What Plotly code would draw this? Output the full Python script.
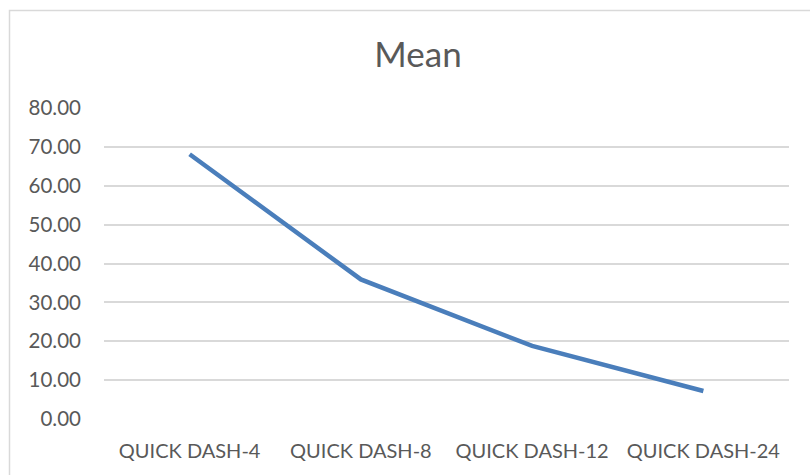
import plotly.graph_objects as go

categories = ["QUICK DASH-4", "QUICK DASH-8", "QUICK DASH-12", "QUICK DASH-24"]
mean_values = [68.1, 35.9, 18.8, 7.2]
y_ticks = [0, 10, 20, 30, 40, 50, 60, 70, 80]
y_tick_labels = ["0.00", "10.00", "20.00", "30.00", "40.00", "50.00", "60.00", "70.00", "80.00"]

W, H = 810, 475
L, R, T, B = 104, 21, 108, 56
pw = W - L - R
ph = H - T - B

FONT = "Lato, 'Open Sans', sans-serif"
TXT = "#595959"

fig = go.Figure()
fig.add_trace(go.Scatter(
    x=categories, y=mean_values, mode="lines",
    line=dict(color="#4A7EBB", width=4.5),
    hoverinfo="x+y", showlegend=False,
))

fig.update_layout(
    width=W, height=H,
    margin=dict(l=L, r=R, t=T, b=B, pad=0),
    paper_bgcolor="white", plot_bgcolor="white",
    title=dict(text="Mean", x=418 / W, xanchor="center", y=1 - 55 / H, yanchor="middle",
               yref="container", xref="container",
               font=dict(family=FONT, size=35, color=TXT)),
    font=dict(family=FONT, color=TXT),
    xaxis=dict(
        type="category", range=[-0.5, 3.5], showgrid=False, zeroline=False,
        showline=False, ticks="", ticklabelstandoff=18,
        tickfont=dict(family=FONT, size=20, color=TXT), fixedrange=True,
    ),
    yaxis=dict(
        range=[0, 80], tickvals=y_ticks, ticktext=y_tick_labels,
        showgrid=True, gridcolor="#D9D9D9", gridwidth=1.5, zeroline=False,
        showline=False, ticks="", ticklabelstandoff=22,
        tickfont=dict(family=FONT, size=20.5, color=TXT), fixedrange=True,
    ),
    shapes=[
        dict(type="rect", xref="paper", yref="paper",
             x0=(9.5 - L) / pw, x1=(W + 20 - L) / pw,
             y0=-(H + 20 - (T + ph)) / ph, y1=(T + ph - 10.5) / ph,
             line=dict(color="#D9D9D9", width=1.5), fillcolor="rgba(0,0,0,0)",
             layer="below"),
    ],
)

fig.write_html(
    "out.html",
    config={"displayModeBar": False},
    post_script="document.body.style.margin='0';document.body.style.overflow='hidden';",
)
